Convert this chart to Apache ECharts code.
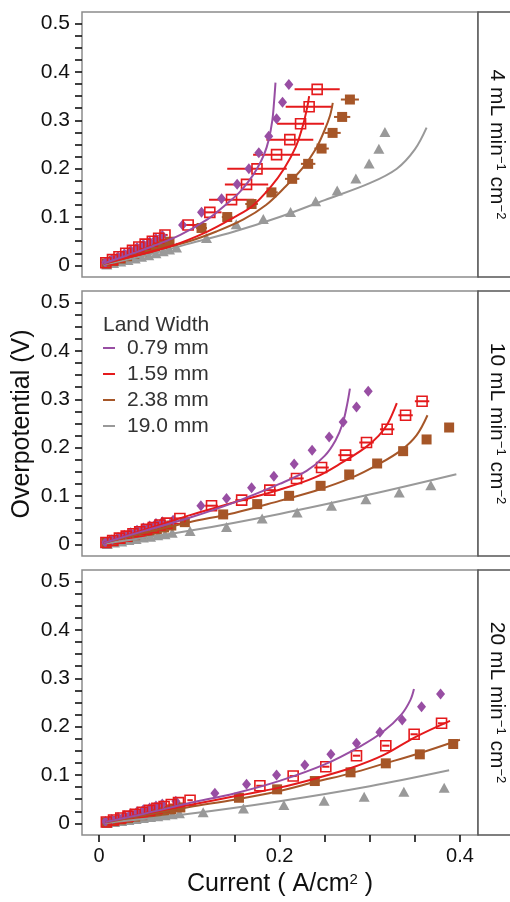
<!DOCTYPE html>
<html>
<head>
<meta charset="utf-8">
<script src="https://cdn.jsdelivr.net/npm/echarts@6/dist/echarts.min.js"></script>
<style>html,body{margin:0;padding:0;background:#fff}#c{width:510px;height:902px}</style>
</head>
<body>
<div id="c"></div>
<script>
// ---------- tick labels / categories ----------
const widths = ['0.79 mm', '1.59 mm', '2.38 mm', '19.0 mm'];
const flowLabels = ['4', '10', '20'];
const xTicks = [0, 0.05, 0.1, 0.15, 0.2, 0.25, 0.3, 0.35, 0.4];
const xLabels = [0, 0.2, 0.4];
const yTicks = [0, 0.025, 0.05, 0.075, 0.1, 0.125, 0.15, 0.175, 0.2, 0.225, 0.25, 0.275, 0.3, 0.325, 0.35, 0.375, 0.4, 0.425, 0.45, 0.475, 0.5];
const yLabels = [0, 0.1, 0.2, 0.3, 0.4, 0.5];

// ---------- panel 1 : 4 mL min-1 cm-2 ----------
const p1_079 = [[0.007,0.006],[0.014,0.012],[0.021,0.018],[0.028,0.024],[0.035,0.031],[0.042,0.037],[0.049,0.043],[0.056,0.049],[0.063,0.055],[0.07,0.062],[0.0925,0.0836],[0.1135,0.1097],[0.1357,0.138],[0.153,0.168],[0.166,0.1996],[0.177,0.233],[0.188,0.267],[0.1967,0.303],[0.2033,0.3375],[0.2103,0.374]];
const p1_159 = [[0.0074,0.0055],[0.0148,0.012],[0.022,0.018],[0.0295,0.025],[0.037,0.031],[0.044,0.038],[0.051,0.044],[0.059,0.05],[0.066,0.056],[0.073,0.063],[0.0987,0.0836],[0.1227,0.1097],[0.1468,0.136],[0.1634,0.1675],[0.175,0.1996],[0.1967,0.229],[0.2114,0.26],[0.2233,0.293],[0.2328,0.328],[0.2417,0.364]];
const e1_159 = [0.003,0.003,0.003,0.003,0.003,0.003,0.003,0.003,0.003,0.003,0.01,0.013,0.025,0.024,0.033,0.026,0.026,0.026,0.026,0.025];
const p1_238 = [[0.008,0.004],[0.016,0.009],[0.024,0.014],[0.031,0.019],[0.039,0.024],[0.047,0.029],[0.055,0.034],[0.062,0.039],[0.07,0.044],[0.078,0.049],[0.1135,0.0774],[0.142,0.1],[0.169,0.127],[0.191,0.151],[0.214,0.179],[0.2317,0.21],[0.2466,0.2416],[0.2588,0.274],[0.2694,0.307],[0.278,0.343]];
const e1_238 = [0.002,0.002,0.002,0.002,0.002,0.002,0.002,0.002,0.002,0.002,0.006,0.006,0.007,0.007,0.008,0.008,0.008,0.009,0.009,0.01];
const p1_190 = [[0.0085,0.002],[0.016,0.005],[0.024,0.008],[0.032,0.011],[0.04,0.014],[0.047,0.018],[0.055,0.021],[0.063,0.025],[0.071,0.029],[0.078,0.033],[0.0858,0.037],[0.119,0.0567],[0.152,0.085],[0.182,0.096],[0.2122,0.1106],[0.24,0.1325],[0.2639,0.1547],[0.2846,0.1795],[0.2993,0.2106],[0.3101,0.241],[0.3168,0.276]];
const f1_079 = [[0.005,0.004],[0.03,0.02],[0.06,0.04],[0.09,0.063],[0.12,0.095],[0.14,0.125],[0.155,0.15],[0.165,0.172],[0.175,0.2],[0.183,0.23],[0.188,0.26],[0.192,0.3],[0.194,0.34],[0.1955,0.378]];
const f1_159 = [[0.005,0.004],[0.04,0.02],[0.08,0.04],[0.12,0.07],[0.15,0.1],[0.17,0.123],[0.19,0.162],[0.205,0.2],[0.218,0.245],[0.226,0.29],[0.231,0.33],[0.2328,0.35]];
const f1_238 = [[0.005,0.003],[0.05,0.025],[0.1,0.05],[0.13,0.07],[0.16,0.095],[0.185,0.125],[0.205,0.16],[0.225,0.2],[0.24,0.24],[0.25,0.28],[0.256,0.31],[0.259,0.336]];
const f1_190 = [[0.005,0.002],[0.05,0.02],[0.1,0.045],[0.15,0.07],[0.2,0.1],[0.25,0.135],[0.3,0.17],[0.33,0.2],[0.35,0.24],[0.363,0.285]];

// ---------- panel 2 : 10 mL min-1 cm-2 ----------
const p2_079 = [[0.007,0.004],[0.014,0.009],[0.021,0.014],[0.028,0.019],[0.035,0.024],[0.042,0.029],[0.049,0.034],[0.056,0.038],[0.063,0.043],[0.07,0.047],[0.082,0.05],[0.1128,0.08],[0.1412,0.095],[0.169,0.117],[0.1937,0.1411],[0.2162,0.166],[0.2361,0.1948],[0.255,0.2223],[0.2705,0.2533],[0.2853,0.2843],[0.2983,0.3167]];
const p2_159 = [[0.0075,0.004],[0.015,0.008],[0.0225,0.013],[0.03,0.017],[0.0375,0.022],[0.045,0.026],[0.0525,0.031],[0.06,0.035],[0.0675,0.04],[0.075,0.044],[0.0895,0.0537],[0.1246,0.08],[0.158,0.0915],[0.1892,0.1122],[0.2188,0.1364],[0.2466,0.159],[0.2732,0.1845],[0.2964,0.2107],[0.3193,0.238],[0.3397,0.267],[0.358,0.296]];
const e2_159 = [0.003,0.003,0.003,0.003,0.003,0.003,0.003,0.003,0.003,0.003,0.006,0.007,0.007,0.007,0.008,0.008,0.008,0.008,0.008,0.008,0.008];
const p2_238 = [[0.008,0.003],[0.016,0.007],[0.024,0.011],[0.032,0.015],[0.04,0.019],[0.048,0.023],[0.056,0.027],[0.064,0.031],[0.072,0.035],[0.08,0.039],[0.095,0.046],[0.1375,0.062],[0.1752,0.0833],[0.2106,0.1004],[0.2455,0.1211],[0.2772,0.1446],[0.3082,0.1673],[0.337,0.1928],[0.363,0.217],[0.388,0.2417]];
const p2_190 = [[0.009,0.001],[0.017,0.004],[0.025,0.006],[0.033,0.009],[0.041,0.011],[0.049,0.014],[0.057,0.016],[0.065,0.019],[0.073,0.021],[0.081,0.024],[0.1008,0.0275],[0.1412,0.036],[0.1807,0.0537],[0.2195,0.0661],[0.2576,0.0798],[0.2957,0.0936],[0.3327,0.1074],[0.3677,0.1225]];
const f2_079 = [[0.005,0.003],[0.05,0.028],[0.1,0.055],[0.15,0.087],[0.2,0.125],[0.23,0.152],[0.25,0.183],[0.262,0.215],[0.27,0.25],[0.275,0.29],[0.278,0.322]];
const f2_159 = [[0.005,0.003],[0.05,0.03],[0.1,0.06],[0.15,0.087],[0.2,0.113],[0.24,0.139],[0.27,0.17],[0.295,0.2],[0.31,0.225],[0.32,0.25],[0.33,0.292]];
const f2_238 = [[0.005,0.003],[0.05,0.024],[0.1,0.046],[0.15,0.065],[0.2,0.09],[0.24,0.111],[0.28,0.138],[0.31,0.166],[0.335,0.195],[0.352,0.226],[0.364,0.267]];
const f2_190 = [[0.007,0.002],[0.1,0.028],[0.2,0.063],[0.3,0.103],[0.396,0.145]];

// ---------- panel 3 : 20 mL min-1 cm-2 ----------
const p3_079 = [[0.007,0.004],[0.014,0.008],[0.021,0.012],[0.028,0.016],[0.035,0.02],[0.042,0.024],[0.049,0.028],[0.056,0.032],[0.063,0.036],[0.07,0.04],[0.085,0.046],[0.1283,0.0621],[0.1634,0.0807],[0.1967,0.1],[0.228,0.1207],[0.2569,0.1428],[0.2853,0.1656],[0.3112,0.1884],[0.336,0.2139],[0.3574,0.2414],[0.3785,0.2677]];
const p3_159 = [[0.008,0.003],[0.016,0.007],[0.024,0.011],[0.032,0.015],[0.04,0.019],[0.048,0.023],[0.056,0.027],[0.064,0.031],[0.072,0.035],[0.08,0.039],[0.088,0.043],[0.1008,0.048],[0.1782,0.0778],[0.2151,0.0979],[0.2513,0.1172],[0.2853,0.14],[0.3178,0.1607],[0.3492,0.1843],[0.3796,0.207]];
const e3_159 = [0.002,0.002,0.002,0.002,0.002,0.002,0.002,0.002,0.002,0.002,0.002,0.003,0.004,0.004,0.004,0.004,0.004,0.004,0.004];
const p3_238 = [[0.008,0.002],[0.016,0.005],[0.024,0.008],[0.032,0.011],[0.04,0.014],[0.048,0.017],[0.056,0.02],[0.064,0.023],[0.072,0.026],[0.08,0.029],[0.09,0.033],[0.155,0.053],[0.1973,0.0704],[0.2391,0.0876],[0.2787,0.1056],[0.3178,0.1242],[0.3555,0.1428],[0.3925,0.1642]];
const p3_190 = [[0.009,0.001],[0.017,0.003],[0.025,0.005],[0.033,0.007],[0.041,0.009],[0.049,0.011],[0.057,0.013],[0.065,0.015],[0.073,0.017],[0.081,0.019],[0.089,0.021],[0.1153,0.0228],[0.16,0.031],[0.2048,0.0379],[0.2494,0.0468],[0.2938,0.0551],[0.3378,0.0655],[0.3825,0.0737]];
const f3_079 = [[0.007,0.003],[0.05,0.02],[0.1,0.042],[0.15,0.062],[0.2,0.088],[0.25,0.122],[0.29,0.16],[0.315,0.19],[0.335,0.225],[0.345,0.255],[0.349,0.278]];
const f3_159 = [[0.007,0.003],[0.05,0.02],[0.1,0.038],[0.15,0.056],[0.2,0.074],[0.24,0.093],[0.28,0.115],[0.315,0.141],[0.35,0.178],[0.389,0.212]];
const f3_238 = [[0.007,0.002],[0.05,0.017],[0.1,0.034],[0.15,0.049],[0.2,0.067],[0.24,0.086],[0.28,0.104],[0.315,0.123],[0.355,0.145],[0.4,0.173]];
const f3_190 = [[0.007,0.001],[0.1,0.02],[0.2,0.046],[0.3,0.077],[0.388,0.11]];

// ---------- build ----------
const colors = ['#984EA3', '#E41A1C', '#A65628', '#999999'];
const FONT = '"Liberation Sans", Arial, Helvetica, sans-serif';
const gridTops = [12, 291, 570];
const GH = 265, GL = 82, GW = 396;

const panels = [
  {pts: [p1_079, p1_159, p1_238, p1_190], fits: [f1_079, f1_159, f1_238, f1_190], err: [null, e1_159, e1_238, null]},
  {pts: [p2_079, p2_159, p2_238, p2_190], fits: [f2_079, f2_159, f2_238, f2_190], err: [null, e2_159, null, null]},
  {pts: [p3_079, p3_159, p3_238, p3_190], fits: [f3_079, f3_159, f3_238, f3_190], err: [null, e3_159, null, null]}
];

const grids = [], xAxes = [], yAxes = [], series = [], graphics = [];
const fmt = v => (v === 0 ? '0' : String(+v.toFixed(2)));

panels.forEach((p, i) => {
  grids.push({left: GL, top: gridTops[i], width: GW, height: GH, show: true,
    borderColor: '#8c8c8c', borderWidth: 1.5, backgroundColor: 'transparent'});
  const bottom = i === 2;
  xAxes.push({gridIndex: i, type: 'value', min: -0.019, max: 0.42, position: 'bottom',
    axisLine: {show: false, onZero: false}, splitLine: {show: false},
    axisTick: {show: bottom, length: 7, customValues: xTicks, lineStyle: {color: '#111', width: 1.6}},
    axisLabel: {show: bottom, customValues: xLabels, formatter: fmt, fontSize: 20, color: '#111', fontFamily: FONT, margin: 11},
    name: bottom ? '{a|Current ( A/cm}{s|2}{a| )}' : '',
    nameLocation: 'middle', nameGap: 37,
    nameTextStyle: {fontFamily: FONT, color: '#111', rich: {
      a: {fontSize: 25, fontFamily: FONT, color: '#111'},
      s: {fontSize: 15, fontFamily: FONT, color: '#111', verticalAlign: 'top', lineHeight: 12}}}
  });
  yAxes.push({gridIndex: i, type: 'value', min: -0.024, max: 0.524, position: 'left',
    axisLine: {show: false, onZero: false}, splitLine: {show: false},
    axisTick: {show: true, length: 7, customValues: yTicks, lineStyle: {color: '#111', width: 1.6}},
    axisLabel: {customValues: yLabels, formatter: fmt, fontSize: 21, color: '#111', fontFamily: FONT, margin: 12}
  });

  // error bars
  p.err.forEach((e, j) => {
    if (!e) return;
    const col = colors[j];
    series.push({type: 'custom', xAxisIndex: i, yAxisIndex: i, z: 2, silent: true,
      data: p.pts[j].map((d, k) => [d[0], d[1], e[k]]),
      encode: {x: 0, y: 1},
      renderItem: (params, api) => {
        const x = api.value(0), y = api.value(1), h = api.value(2);
        const a = api.coord([x - h, y]), b = api.coord([x + h, y]);
        return {type: 'line', shape: {x1: a[0], y1: a[1], x2: b[0], y2: b[1]},
          style: {stroke: col, lineWidth: 2}};
      }});
  });

  // fitted curves (named, used by legend)
  [3, 2, 1, 0].forEach(j => {
    series.push({type: 'line', name: widths[j], xAxisIndex: i, yAxisIndex: i, z: 4,
      data: p.fits[j], showSymbol: false, smooth: 0.35, silent: true,
      itemStyle: {color: colors[j]}, lineStyle: {color: colors[j], width: 2}});
  });

  // points: gray, brown, purple, red on top
  [3, 2, 0, 1].forEach(j => {
    const base = {type: 'scatter', name: widths[j] + ' data', xAxisIndex: i, yAxisIndex: i, z: 3, data: p.pts[j], silent: true};
    if (j === 0) Object.assign(base, {symbol: 'diamond', symbolSize: [9, 11], itemStyle: {color: colors[0], opacity: 1}});
    if (j === 1) Object.assign(base, {symbol: 'rect', symbolSize: 10, itemStyle: {color: 'rgba(255,255,255,0)', borderColor: colors[1], borderWidth: 1.6, opacity: 1}});
    if (j === 2) Object.assign(base, {symbol: 'rect', symbolSize: 10, itemStyle: {color: colors[2], opacity: 1}});
    if (j === 3) Object.assign(base, {symbol: 'triangle', symbolSize: [11, 10], itemStyle: {color: colors[3], opacity: 1}});
    series.push(base);
  });

  // strip
  graphics.push({type: 'rect', shape: {x: GL + GW, y: gridTops[i], width: 40, height: GH},
    style: {fill: '#fff', stroke: '#555', lineWidth: 1.5}, z: 10});
  graphics.push({type: 'text', x: 497, y: gridTops[i] + GH / 2, rotation: -Math.PI / 2, z: 11,
    style: {text: '{a|' + flowLabels[i] + ' mL min}{s|−1}{a| cm}{s|−2}',
      align: 'center', verticalAlign: 'middle', fill: '#111',
      rich: {a: {fontSize: 21, fontFamily: FONT, fill: '#111'},
             s: {fontSize: 13, fontFamily: FONT, fill: '#111', verticalAlign: 'top', lineHeight: 12}}}});
});

// y axis title
graphics.push({type: 'text', x: 22, y: 424, rotation: Math.PI / 2,
  style: {text: 'Overpotential (V)', fontSize: 25, fontFamily: FONT, fill: '#111', align: 'center', verticalAlign: 'middle'}});
// legend title
graphics.push({type: 'text', x: 103, y: 325,
  style: {text: 'Land Width', fontSize: 21, fontFamily: FONT, fill: '#333', align: 'left', verticalAlign: 'middle'}});

const option = {
  animation: false,
  backgroundColor: '#fff',
  grid: grids, xAxis: xAxes, yAxis: yAxes, series: series, graphic: graphics,
  legend: {orient: 'vertical', left: 103, top: 335, padding: 0, itemGap: 0, selectedMode: false,
    itemWidth: 12, itemHeight: 2, icon: 'rect',
    textStyle: {fontSize: 21, fontFamily: FONT, color: '#333', lineHeight: 26, padding: [0, 0, 0, 7]},
    data: widths.map((w, j) => ({name: w, itemStyle: {color: colors[j], borderWidth: 0}}))}
};

const chart = echarts.init(document.getElementById('c'), null, {renderer: 'canvas'});
chart.setOption(option);
</script>
</body>
</html>
